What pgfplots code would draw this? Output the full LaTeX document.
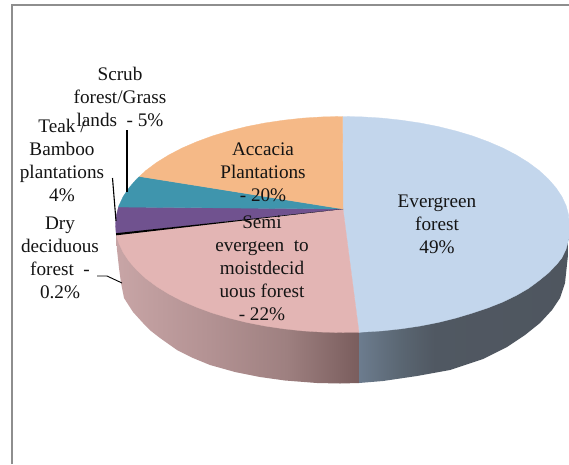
\documentclass[border=0pt]{standalone}
\usepackage{fontspec}
\setmainfont{Liberation Serif}
\usepackage{pgfplots}
\pgfplotsset{compat=1.18}
\definecolor{evergreen}{HTML}{C3D6EC}
\definecolor{semi}{HTML}{E3B5B4}
\definecolor{teak}{HTML}{70528F}
\definecolor{scrub}{HTML}{3F95AD}
\definecolor{accacia}{HTML}{F5B987}
\definecolor{framegrey}{HTML}{8E8E8E}
% side walls of the disc: stops run from 25bp (left of the path) to 75bp (right of the path)
\pgfdeclarehorizontalshading{semiwall}{100bp}{
  rgb(0bp)=(0.784,0.647,0.651);
  rgb(25bp)=(0.784,0.647,0.651);
  rgb(45bp)=(0.698,0.569,0.573);
  rgb(60bp)=(0.620,0.502,0.502);
  rgb(75bp)=(0.478,0.365,0.365);
  rgb(100bp)=(0.478,0.365,0.365)}
\pgfdeclarehorizontalshading{evergreenwall}{100bp}{
  rgb(0bp)=(0.424,0.486,0.557);
  rgb(25bp)=(0.424,0.486,0.557);
  rgb(35bp)=(0.353,0.400,0.447);
  rgb(43bp)=(0.314,0.345,0.384);
  rgb(75bp)=(0.310,0.337,0.373);
  rgb(100bp)=(0.310,0.337,0.373)}
\tikzset{pielabel/.style={align=center,inner sep=0pt,font=\fontsize{19.2pt}{23pt}\selectfont,text=black!92}}
\begin{document}
\begin{tikzpicture}
\begin{axis}[
  at={(0,0)},anchor=south west,
  width=569pt,height=464pt,scale only axis,
  xmin=0,xmax=569,ymin=0,ymax=464,y dir=reverse,
  enlargelimits=false,hide axis,
  every axis plot/.append style={no markers}]
% page background and chart frame
\addplot[draw=none,fill=white] coordinates {(0,0)(569,0)(569,464)(0,464)} \closedcycle;
\addplot[framegrey,line width=1.6pt] coordinates {(11.7,464)(11.7,5.2)(569,5.2)};
% side wall under the Semi evergreen slice
\addplot[draw=none,shading=semiwall] coordinates {
 (116,234)(117,250)(119,268)(121,283)(124,298)(133,312)(143,323)(151,331)(160,338)
 (177,350)(193,358)(210,365)(235,372)(260,377)(285,380.5)(317,383)(340,383.5)(359,383)
 (359,332)} -- cycle;
% side wall under the Evergreen slice
\addplot[draw=none,shading=evergreenwall] coordinates {
 (359,383)(383,381)(417,376)(450,370)(483,359)(507,347)(525,335)(540,323)(552,310)
 (560,298)(565,283)(568,255)(569,235)(569,228)(359,332)} -- cycle;
% Evergreen forest
\addplot[draw=evergreen,line width=0.3pt,fill=evergreen] coordinates {
 (343,209)(342.5,116.5)(362.3,116.9)(381.9,118.1)(401.2,120.2)(420.1,123.0)(438.4,126.6)
 (456.0,131.0)(472.7,136.0)(488.4,141.8)(503.0,148.1)(516.4,155.1)(528.5,162.6)
 (539.1,170.5)(548.2,178.9)(555.8,187.6)(561.8,196.5)(566.1,205.7)(568.6,215.1)
 (569,224.5)(569,238)(566.1,249)(561.8,258)(555.8,265.4)(548.2,273.1)(539.1,280.5)
 (528.5,288.4)(516.4,295.4)(503.0,301.9)(488.4,307.7)(472.7,313.0)(456.0,318.0)
 (438.4,322.4)(420.1,326.0)(401.2,328.8)(381.9,330.9)(362.3,332.1)(359,332.4)} -- cycle;
% Semi evergreen to moist deciduous forest
\addplot[draw=semi,line width=0.3pt,fill=semi] coordinates {
 (343,209)(359,332.4)(342.5,332.5)(322.7,332.1)(303.1,330.9)(283.8,328.8)(264.9,326.0)
 (246.6,322.4)(229.0,318.0)(212.3,313.0)(196.6,307.2)(182.0,300.9)(168.6,293.9)
 (156.5,286.4)(145.9,278.5)(136.8,270.1)(129.2,261.4)(123.2,252.5)(118.9,243.3)
 (116.4,235)} -- cycle;
% Teak / Bamboo plantations
\addplot[draw=teak,line width=0.3pt,fill=teak] coordinates {
 (343,209)(116.1,233.5)(115.5,224.5)(116.4,215.1)(118.5,207)} -- cycle;
% Scrub forest / Grass lands
\addplot[draw=scrub,line width=0.3pt,fill=scrub] coordinates {
 (343,209)(118.5,207)(118.9,205.7)(123.2,196.5)(129.2,187.6)(136.8,178.9)(139.5,176.5)} -- cycle;
% Accacia Plantations
\addplot[draw=accacia,line width=0.3pt,fill=accacia] coordinates {
 (343,209)(139.5,176.5)(145.9,170.5)(156.5,162.6)(168.6,155.1)(182.0,148.1)(196.6,141.8)
 (212.3,136.0)(229.0,131.0)(246.6,126.6)(264.9,123.0)(283.8,120.2)(303.1,118.1)
 (322.7,116.9)(342.5,116.5)} -- cycle;
% Dry deciduous forest: the 0.2% sliver
\addplot[draw=none,fill=black] coordinates {(343,209)(116,233.2)(116.2,235.3)} -- cycle;
% leader lines
\addplot[black,line width=1.1pt] coordinates {(127,130)(127,192)};
\addplot[black,line width=1.1pt] coordinates {(112.5,178)(116,221)};
\addplot[black,line width=0.9pt] coordinates {(97,276)(107,276)(122,283)};
% slice labels
\node[pielabel] at (axis cs:120,97) {Scrub\\forest/Grass\\lands\ \ - 5\%};
\node[pielabel] at (axis cs:62,160) {Teak /\\Bamboo\\plantations\\4\%};
\node[pielabel] at (axis cs:60,258) {Dry\\deciduous\\forest\ \ -\\0.2\%};
\node[pielabel] at (axis cs:263,172) {Accacia\\Plantations\\- 20\%};
\node[pielabel] at (axis cs:262,268) {Semi\\evergeen\ \ to\\moistdecid\\uous forest\\- 22\%};
\node[pielabel] at (axis cs:437,224) {Evergreen\\forest\\49\%};
\end{axis}
\end{tikzpicture}
\end{document}
